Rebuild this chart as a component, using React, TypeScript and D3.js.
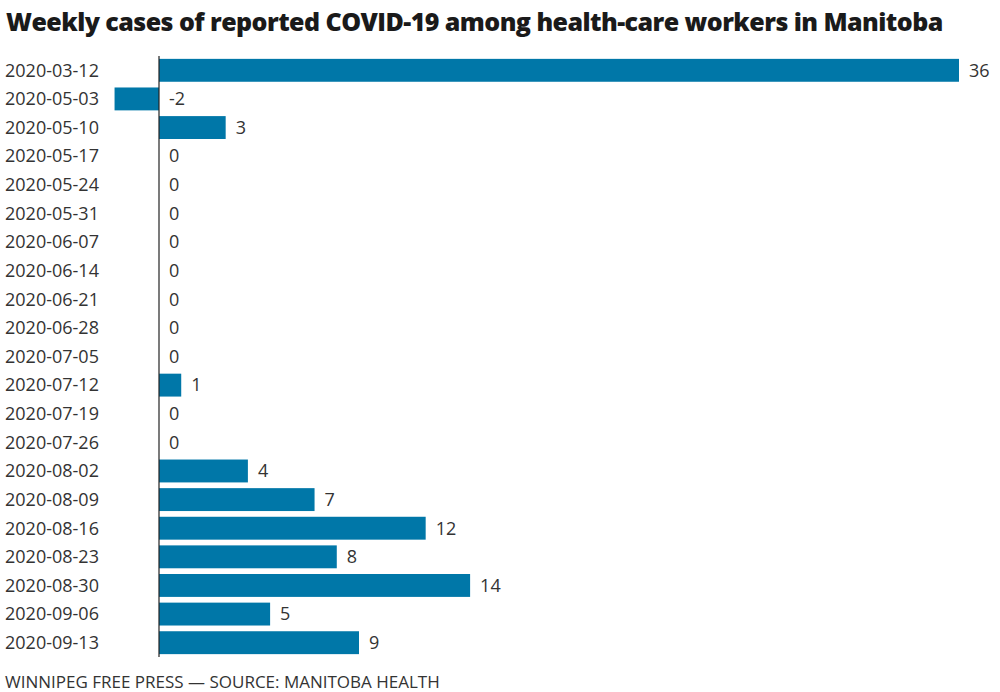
import { useEffect, useRef } from "react"
import * as d3 from "d3"

// Data
const weeks = [
  "2020-03-12", "2020-05-03", "2020-05-10", "2020-05-17", "2020-05-24", "2020-05-31",
  "2020-06-07", "2020-06-14", "2020-06-21", "2020-06-28", "2020-07-05", "2020-07-12",
  "2020-07-19", "2020-07-26", "2020-08-02", "2020-08-09", "2020-08-16", "2020-08-23",
  "2020-08-30", "2020-09-06", "2020-09-13",
]
const cases = [36, -2, 3, 0, 0, 0, 0, 0, 0, 0, 0, 1, 0, 0, 4, 7, 12, 8, 14, 5, 9]

const title = "Weekly cases of reported COVID-19 among health-care workers in Manitoba"
const credit = "WINNIPEG FREE PRESS — SOURCE: MANITOBA HEALTH"

const App = () => {
  const svgRef = useRef<SVGSVGElement>(null)

  useEffect(() => {
    if (!svgRef.current) return
    const svg = d3.select(svgRef.current)
    svg.selectAll("*").remove()

    const width = 1000
    const height = 692
    const font = "'Open Sans', sans-serif"
    const barColor = "#0077a8"

    const x = d3.scaleLinear().domain([0, 36]).range([159, 959])
    const y = d3.scaleBand<string>().domain(weeks).range([56, 657]).paddingInner(0.2).paddingOuter(0.1)

    svg.attr("width", width).attr("height", height).style("font-family", font)

    svg
      .append("text")
      .attr("x", 6)
      .attr("y", 31)
      .attr("font-size", "25px")
      .attr("font-weight", 800)
      .attr("letter-spacing", "-0.55px")
      .attr("fill", "#1a1a1a")
      .text(title)

    const rows = weeks.map((w, i) => ({ week: w, value: cases[i] }))

    svg
      .append("g")
      .selectAll("rect")
      .data(rows)
      .join("rect")
      .attr("x", (d) => x(Math.min(0, d.value)))
      .attr("y", (d) => y(d.week)!)
      .attr("width", (d) => Math.abs(x(d.value) - x(0)))
      .attr("height", y.bandwidth())
      .attr("fill", barColor)

    svg
      .append("g")
      .selectAll("text")
      .data(rows)
      .join("text")
      .attr("x", 5)
      .attr("y", (d) => y(d.week)! + y.bandwidth() / 2)
      .attr("dy", "0.35em")
      .attr("font-size", "18px")
      .attr("fill", "#333")
      .text((d) => d.week)

    svg
      .append("g")
      .selectAll("text")
      .data(rows)
      .join("text")
      .attr("x", (d) => x(Math.max(0, d.value)) + 10)
      .attr("y", (d) => y(d.week)! + y.bandwidth() / 2)
      .attr("dy", "0.35em")
      .attr("font-size", "18px")
      .attr("fill", "#333")
      .text((d) => d.value)

    svg
      .append("line")
      .attr("x1", x(0))
      .attr("x2", x(0))
      .attr("y1", 56)
      .attr("y2", 657)
      .attr("stroke", "#222")
      .attr("stroke-width", 1.2)

    svg
      .append("text")
      .attr("x", 5)
      .attr("y", 688)
      .attr("font-size", "17px")
      .attr("fill", "#333")
      .text(credit)
  }, [])

  return <svg ref={svgRef} style={{ position: "absolute", left: 0, top: 0 }} />
}

export default App
